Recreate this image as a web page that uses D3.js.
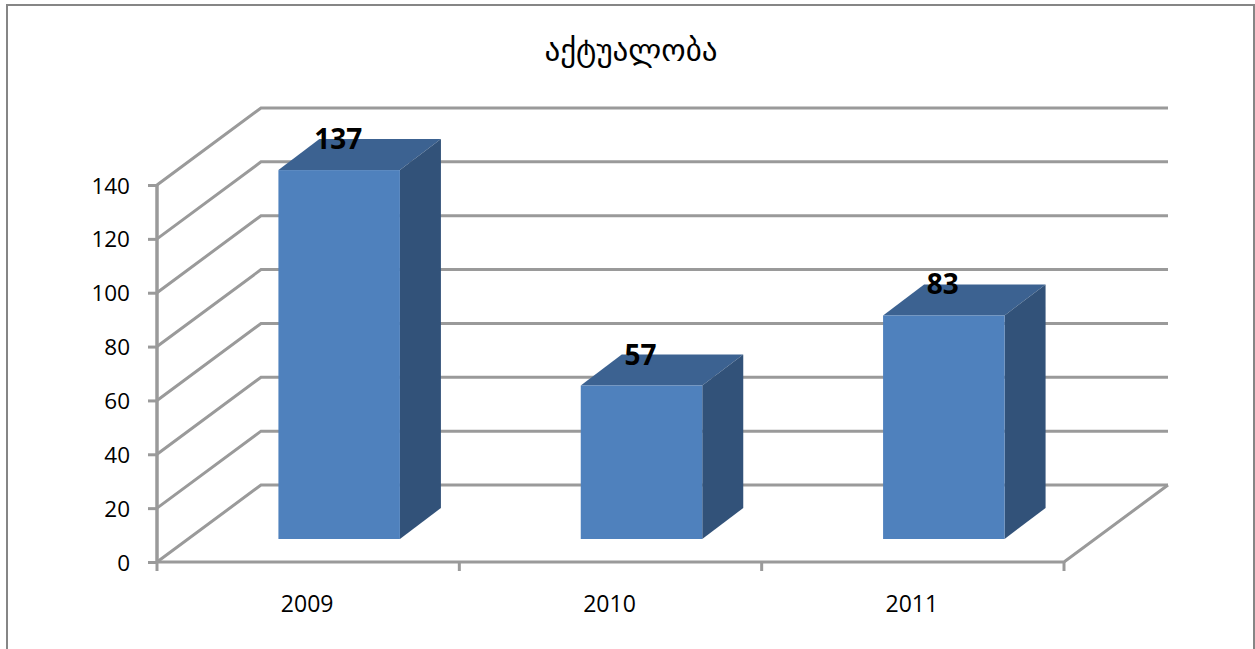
<!DOCTYPE html>
<html><head><meta charset="utf-8">
<script src="https://cdn.jsdelivr.net/npm/d3@7"></script>
<style>html,body{margin:0;padding:0;background:#fff;overflow:hidden}svg{display:block}text{fill:#000}</style>
</head><body>
<script>
const titleText = "აქტუალობა";
const categories = ["2009", "2010", "2011"];
const values = [137, 57, 83];
const yTicks = [0, 20, 40, 60, 80, 100, 120, 140];

const W = 1255, H = 649;
const plot = {left: 157, right: 1064, bottom: 562, top: 185};
const depth = {dx: 104, dy: 77};
const barDepth = {dx: 41, dy: 31};
const barShift = {dx: 31, dy: 23};
const grid = "#9a9a9a";
const font = "Open Sans";

const svg = d3.select("body").append("svg").attr("width", W).attr("height", H);
svg.append("rect").attr("x", 7).attr("y", 5).attr("width", 1247).attr("height", 660)
  .attr("fill", "#fff").attr("stroke", "#868686").attr("stroke-width", 2);

const x = d3.scaleBand().domain(categories).range([plot.left, plot.right]);
const y = d3.scaleLinear().domain([0, 140]).range([plot.bottom, plot.top]);
const barW = 121.5;

const line = d3.line();
svg.append("g").selectAll("path").data(yTicks).join("path")
  .attr("d", d => line([[plot.left, y(d)], [plot.left + depth.dx, y(d) - depth.dy], [plot.right + depth.dx, y(d) - depth.dy]]))
  .attr("fill", "none").attr("stroke", grid).attr("stroke-width", 3);
svg.append("path").attr("d", line([[plot.left, plot.bottom], [plot.right, plot.bottom], [plot.right + depth.dx, plot.bottom - depth.dy]]))
  .attr("fill", "none").attr("stroke", grid).attr("stroke-width", 3);
svg.append("path").attr("d", line([[plot.left, plot.top], [plot.left, plot.bottom]]))
  .attr("stroke", grid).attr("stroke-width", 3.5).attr("fill", "none");

const yAxis = svg.append("g").attr("transform", `translate(${plot.left},0)`)
  .call(d3.axisLeft(y).tickValues(yTicks).tickSize(9).tickPadding(18));
yAxis.select(".domain").remove();
yAxis.selectAll("line").attr("stroke", grid).attr("stroke-width", 3);
yAxis.selectAll("text").attr("font-family", font).attr("font-size", 22.5).attr("fill", "#000").attr("dy", "0.36em");

const xAxis = svg.append("g").attr("transform", `translate(0,${plot.bottom})`)
  .call(d3.axisBottom(x).tickSize(0).tickPadding(34));
xAxis.select(".domain").remove();
xAxis.selectAll("text").attr("font-family", font).attr("font-size", 23).attr("fill", "#000")
  .attr("dx", -1);
svg.append("g").selectAll("line").data(d3.range(4)).join("line")
  .attr("x1", i => plot.left + i * x.bandwidth()).attr("x2", i => plot.left + i * x.bandwidth())
  .attr("y1", plot.bottom).attr("y2", plot.bottom + 9)
  .attr("stroke", grid).attr("stroke-width", 3);

const bars = svg.append("g").selectAll("g").data(categories.map((c, i) => ({c, v: values[i]}))).join("g");
const bx = d => x(d.c) + x.bandwidth() / 2 + barShift.dx - barW / 2;
const by = d => y(d.v) - barShift.dy;
const b0 = plot.bottom - barShift.dy;
bars.append("path").attr("fill", "#3c6291").attr("d", d => line([[bx(d), by(d)], [bx(d) + barDepth.dx, by(d) - barDepth.dy], [bx(d) + barW + barDepth.dx, by(d) - barDepth.dy], [bx(d) + barW, by(d)]]) + "Z");
bars.append("path").attr("fill", "#325279").attr("d", d => line([[bx(d) + barW, by(d)], [bx(d) + barW + barDepth.dx, by(d) - barDepth.dy], [bx(d) + barW + barDepth.dx, b0 - barDepth.dy], [bx(d) + barW, b0]]) + "Z");
bars.append("rect").attr("fill", "#4f81bd").attr("x", bx).attr("y", by).attr("width", barW).attr("height", d => b0 - by(d));
bars.append("text").text(d => d.v).attr("x", d => bx(d) + barW / 2 - 1).attr("y", d => by(d) - 21)
  .attr("text-anchor", "middle").attr("font-family", font).attr("font-weight", 700).attr("font-size", 28);

svg.append("text").text(titleText).attr("x", 631).attr("y", 61).attr("text-anchor", "middle")
  .attr("font-family", "DejaVu Sans").attr("font-size", 31);
</script>
</body></html>
